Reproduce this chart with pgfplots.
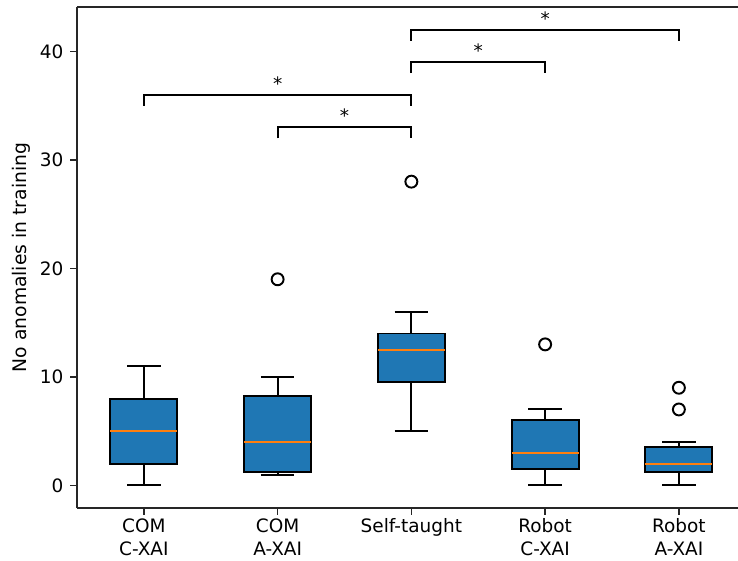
\documentclass[border=0pt]{standalone}
\usepackage{fontspec}
\setmainfont{DejaVu Sans}
\usepackage{pgfplots}
\pgfplotsset{compat=1.18}
\usepgfplotslibrary{statistics}
\definecolor{cblue}{HTML}{1F77B4}
\definecolor{corange}{HTML}{FF7F0E}
\begin{document}
\begin{tikzpicture}
\begin{axis}[
  scale only axis,
  width=476pt, height=360.9pt,
  xmin=0.5, xmax=5.442,
  ymin=-2.1, ymax=44.1,
  axis y line*=left,
  axis line style={black!85, line width=1.1pt},
  tick style={black!85, line width=1.1pt},
  major tick length=4.8pt,
  tick align=outside,
  xtick pos=bottom, ytick pos=left,
  xtick={1,2,3,4,5},
  xticklabels={{COM\\C-XAI},{COM\\A-XAI},{Self-taught},{Robot\\C-XAI},{Robot\\A-XAI}},
  xticklabel style={align=center, anchor=north, font=\fontsize{13.3}{16.6}\selectfont, yshift=1pt},
  ytick={0,10,20,30,40},
  /pgf/number format/assume math mode=true,
  yticklabel style={font=\fontsize{13.3}{16}\selectfont, xshift=-1.5pt},
  ylabel={No anomalies in training},
  ylabel style={at={(axis description cs:-0.084,0.5)}, anchor=center, rotate=0, font=\fontsize{13.5}{16}\selectfont},
  boxplot/draw direction=y,
  boxplot/box extend=0.5,
  boxplot/whisker extend=0.25,
  boxplot/every box/.style={draw=black, fill=cblue, line width=1.4pt},
  boxplot/every whisker/.style={draw=black, line width=1.4pt},
  boxplot/every median/.style={draw=corange, line width=1.4pt},
  clip=false,
]
\addplot[boxplot prepared={lower whisker=0, lower quartile=2, median=5, upper quartile=8, upper whisker=11, draw position=1},
  mark=o, mark size=4.3pt, mark options={black, line width=1.4pt, fill=none}]
  coordinates {};
\addplot[boxplot prepared={lower whisker=1, lower quartile=1.25, median=4, upper quartile=8.25, upper whisker=10, draw position=2},
  mark=o, mark size=4.3pt, mark options={black, line width=1.4pt, fill=none}]
  table[row sep=\\, y index=0] {data\\ 19\\};
\addplot[boxplot prepared={lower whisker=5, lower quartile=9.5, median=12.5, upper quartile=14, upper whisker=16, draw position=3},
  mark=o, mark size=4.3pt, mark options={black, line width=1.4pt, fill=none}]
  table[row sep=\\, y index=0] {data\\ 28\\};
\addplot[boxplot prepared={lower whisker=0, lower quartile=1.5, median=3, upper quartile=6, upper whisker=7, draw position=4},
  mark=o, mark size=4.3pt, mark options={black, line width=1.4pt, fill=none}]
  table[row sep=\\, y index=0] {data\\ 13\\};
\addplot[boxplot prepared={lower whisker=0, lower quartile=1.25, median=2, upper quartile=3.5, upper whisker=4, draw position=5},
  mark=o, mark size=4.3pt, mark options={black, line width=1.4pt, fill=none}]
  table[row sep=\\, y index=0] {data\\ 7\\ 9\\};
% significance brackets
\draw[black, line width=1.4pt] (axis cs:1,35) -- (axis cs:1,36) -- (axis cs:3,36) -- (axis cs:3,35);
\node[anchor=base, inner sep=0pt, yshift=3.4pt, font=\fontsize{13.3}{16}\selectfont] at (axis cs:2,36) {*};
\draw[black, line width=1.4pt] (axis cs:2,32) -- (axis cs:2,33) -- (axis cs:3,33) -- (axis cs:3,32);
\node[anchor=base, inner sep=0pt, yshift=3.4pt, font=\fontsize{13.3}{16}\selectfont] at (axis cs:2.5,33) {*};
\draw[black, line width=1.4pt] (axis cs:3,38) -- (axis cs:3,39) -- (axis cs:4,39) -- (axis cs:4,38);
\node[anchor=base, inner sep=0pt, yshift=3.4pt, font=\fontsize{13.3}{16}\selectfont] at (axis cs:3.5,39) {*};
\draw[black, line width=1.4pt] (axis cs:3,41) -- (axis cs:3,42) -- (axis cs:5,42) -- (axis cs:5,41);
\node[anchor=base, inner sep=0pt, yshift=3.4pt, font=\fontsize{13.3}{16}\selectfont] at (axis cs:4,42) {*};
\end{axis}
\pgfresetboundingbox
\path[use as bounding box] ([xshift=-55.44pt,yshift=-37.44pt]current axis.south west) rectangle ([yshift=5.04pt]current axis.north east);
\end{tikzpicture}
\end{document}
